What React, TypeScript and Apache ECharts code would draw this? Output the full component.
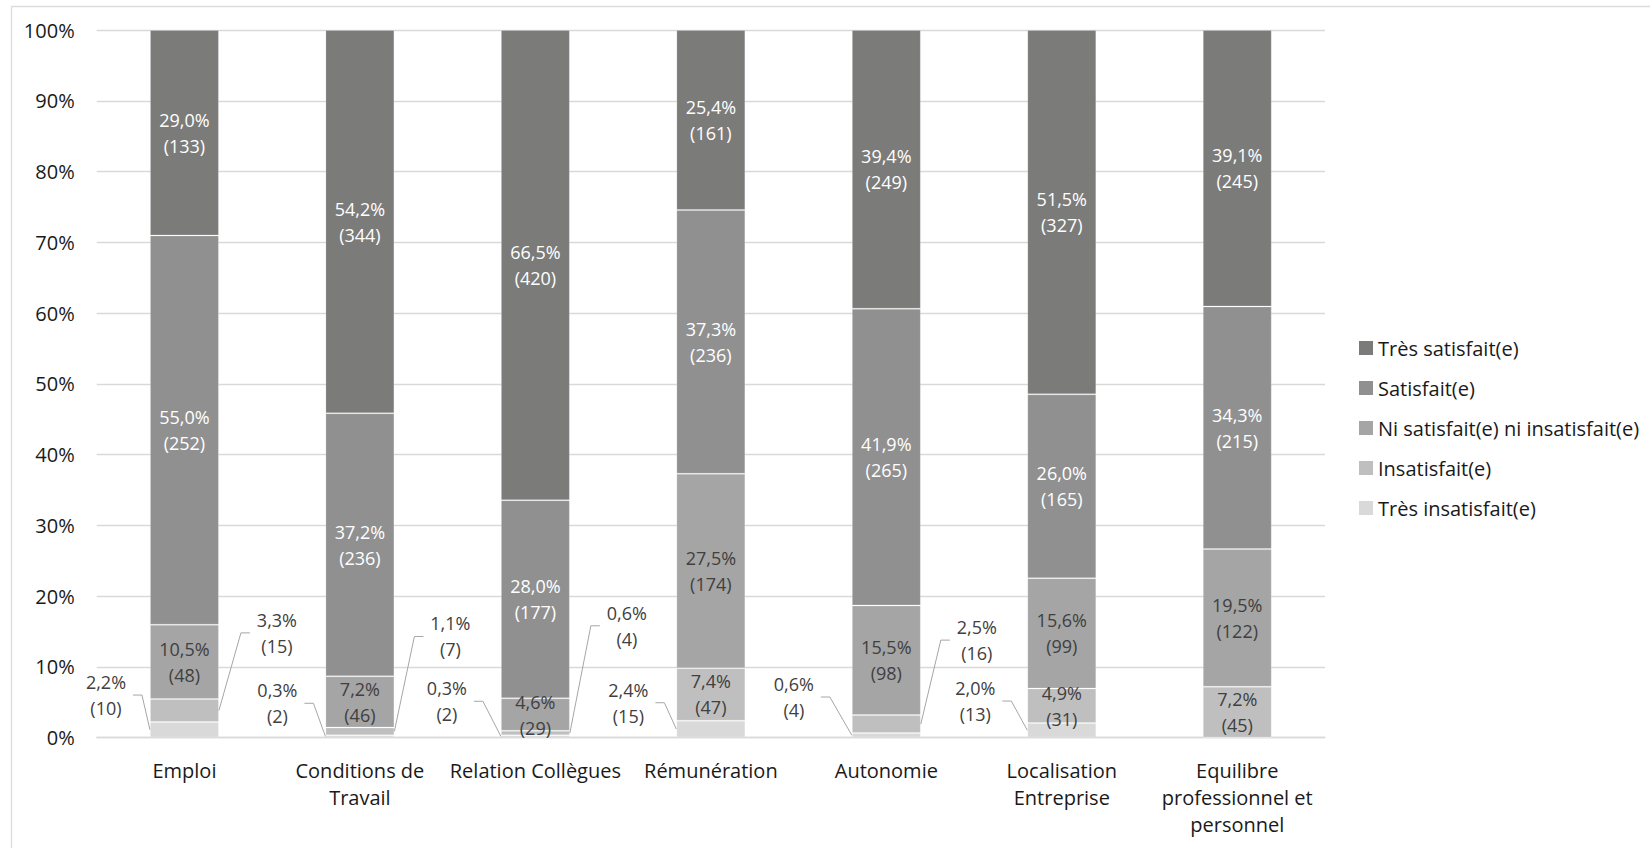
import React, { useEffect, useRef } from "react";
import * as echarts from "echarts";

// ---------- data ----------
const categories = [
  "Emploi",
  "Conditions de\nTravail",
  "Relation Collègues",
  "Rémunération",
  "Autonomie",
  "Localisation\nEntreprise",
  "Equilibre\nprofessionnel et\npersonnel",
];

// bottom -> top stacking order
const seriesNames = [
  "Très insatisfait(e)",
  "Insatisfait(e)",
  "Ni satisfait(e) ni insatisfait(e)",
  "Satisfait(e)",
  "Très satisfait(e)",
];

const countsTresInsatisfait = [10, 2, 2, 15, 4, 13, 0];
const countsInsatisfait = [15, 7, 4, 47, 16, 31, 45];
const countsNi = [48, 46, 29, 174, 98, 99, 122];
const countsSatisfait = [252, 236, 177, 236, 265, 165, 215];
const countsTresSatisfait = [133, 344, 420, 161, 249, 327, 245];

const pctTresInsatisfait = [2.2, 0.3, 0.3, 2.4, 0.6, 2.0, 0];
const pctInsatisfait = [3.3, 1.1, 0.6, 7.4, 2.5, 4.9, 7.2];
const pctNi = [10.5, 7.2, 4.6, 27.5, 15.5, 15.6, 19.5];
const pctSatisfait = [55.0, 37.2, 28.0, 37.3, 41.9, 26.0, 34.3];
const pctTresSatisfait = [29.0, 54.2, 66.5, 25.4, 39.4, 51.5, 39.1];

const yTicks = [0, 10, 20, 30, 40, 50, 60, 70, 80, 90, 100];

// ---------- style / layout ----------
const colors = ["#d9d9d9", "#bfbfbf", "#a5a5a5", "#909090", "#7b7b7a"];
const labelColors = ["#404040", "#404040", "#404040", "#ffffff", "#ffffff"];
const FONT = '"Open Sans", "Noto Sans", sans-serif';
const BAR_RATIO = 0.393;

// callout labels (outside the bars), offsets in px relative to bar edge / segment top
const callouts = [
  { cat: 0, s: 0, side: "L", dx: -44, dy: -27 },
  { cat: 1, s: 0, side: "L", dx: -48, dy: -32 },
  { cat: 2, s: 0, side: "L", dx: -54, dy: -34 },
  { cat: 3, s: 0, side: "L", dx: -48, dy: -18 },
  { cat: 4, s: 0, side: "L", dx: -58, dy: -36 },
  { cat: 5, s: 0, side: "L", dx: -52, dy: -22 },
  { cat: 0, s: 1, side: "R", dx: 58, dy: -66 },
  { cat: 1, s: 1, side: "R", dx: 56, dy: -91 },
  { cat: 2, s: 1, side: "R", dx: 57, dy: -105 },
  { cat: 4, s: 1, side: "R", dx: 56, dy: -75 },
];

const counts = [
  countsTresInsatisfait,
  countsInsatisfait,
  countsNi,
  countsSatisfait,
  countsTresSatisfait,
];
const pcts = [
  pctTresInsatisfait,
  pctInsatisfait,
  pctNi,
  pctSatisfait,
  pctTresSatisfait,
];

const fmtPct = (v: number) => v.toFixed(1).replace(".", ",") + "%";

export default function App() {
  const ref = useRef<HTMLDivElement>(null);

  useEffect(() => {
    if (!ref.current) return;
    const chart = echarts.init(ref.current, null, { renderer: "svg" });

    const totals = categories.map((_, c) =>
      counts.reduce((acc, arr) => acc + arr[c], 0)
    );
    const heights = counts.map((arr) => arr.map((v, c) => (v / totals[c]) * 100));

    const isCallout = (s: number, c: number) =>
      callouts.some((k) => k.s === s && k.cat === c);

    const barSeries = seriesNames.map((name, s) => ({
      name,
      type: "bar",
      stack: "total",
      barWidth: (BAR_RATIO * 100).toFixed(1) + "%",
      itemStyle: {
        color: colors[s],
        borderColor: "rgba(255,255,255,0.18)",
        borderWidth: 1,
      },
      emphasis: { disabled: true },
      label: {
        show: true,
        position: "inside",
        color: labelColors[s],
        fontSize: 18,
        lineHeight: 26,
        fontFamily: FONT,
        formatter: (p: any) => `${fmtPct(pcts[s][p.dataIndex])}\n(${counts[s][p.dataIndex]})`,
      },
      data: heights[s].map((v, c) => {
        if (counts[s][c] === 0 || isCallout(s, c)) {
          return { value: v, label: { show: false } };
        }
        return { value: v };
      }),
    }));

    const calloutData = callouts.map((k) => {
      let base = 0;
      for (let i = 0; i < k.s; i++) base += heights[i][k.cat];
      return [k.cat, base, base + heights[k.s][k.cat]];
    });

    const calloutSeries = {
      type: "custom",
      name: "callouts",
      clip: false,
      z: 10,
      silent: true,
      data: calloutData,
      renderItem: (params: any, api: any) => {
        const k = callouts[params.dataIndex];
        const base = api.value(1);
        const top = api.value(2);
        const pTop = api.coord([k.cat, top]);
        const pBase = api.coord([k.cat, base]);
        const bandW = api.size([1, 0])[0];
        const half = (bandW * BAR_RATIO) / 2;
        const left = k.side === "L";
        const edgeX = left ? pTop[0] - half : pTop[0] + half;
        const segMid = (pTop[1] + pBase[1]) / 2;
        const cx = edgeX + k.dx;
        const cy = pTop[1] + k.dy;
        const sgn = left ? 1 : -1;
        const text = `${fmtPct(pcts[k.s][k.cat])}\n(${counts[k.s][k.cat]})`;
        return {
          type: "group",
          children: [
            {
              type: "polyline",
              shape: {
                points: [
                  [cx + sgn * 27, cy],
                  [cx + sgn * 36, cy],
                  [edgeX, segMid],
                ],
              },
              style: { stroke: "#a6a6a6", lineWidth: 1, fill: "none" },
            },
            {
              type: "text",
              x: cx,
              y: cy,
              style: {
                text,
                fill: "#404040",
                fontSize: 18,
                lineHeight: 26,
                fontFamily: FONT,
                align: "center",
                verticalAlign: "middle",
              },
            },
          ],
        };
      },
    };

    chart.setOption({
      animation: false,
      backgroundColor: "#ffffff",
      textStyle: { fontFamily: FONT },
      graphic: [
        {
          type: "rect",
          shape: { x: 11.5, y: 6.5, width: 1700, height: 900 },
          style: { fill: "none", stroke: "#dcdcdc", lineWidth: 1.3 },
          silent: true,
          z: -1,
        },
      ],
      grid: {
        left: 96.7,
        right: 325,
        top: 30,
        bottom: 110.5,
        containLabel: false,
        outerBoundsMode: "none",
      },
      legend: {
        orient: "vertical",
        left: 1354,
        top: 333,
        itemWidth: 14,
        itemHeight: 14,
        itemGap: 20,
        icon: "rect",
        selectedMode: false,
        itemStyle: { borderWidth: 0 },
        textStyle: {
          fontSize: 20,
          lineHeight: 20,
          color: "#1a1a1a",
          fontFamily: FONT,
        },
        data: seriesNames.slice().reverse(),
      },
      xAxis: {
        type: "category",
        data: categories,
        axisTick: { show: false },
        axisLine: { show: true, lineStyle: { color: "#d9d9d9", width: 1.3 } },
        axisLabel: {
          interval: 0,
          margin: 19,
          fontSize: 20,
          lineHeight: 27,
          color: "#1a1a1a",
          fontFamily: FONT,
        },
      },
      yAxis: {
        type: "value",
        min: yTicks[0],
        max: yTicks[yTicks.length - 1],
        interval: yTicks[1] - yTicks[0],
        axisLine: { show: false },
        axisTick: { show: false },
        splitLine: { lineStyle: { color: "#d9d9d9", width: 1.3 } },
        axisLabel: {
          margin: 22,
          fontSize: 20,
          color: "#1a1a1a",
          fontFamily: FONT,
          formatter: "{value}%",
        },
      },
      series: [...barSeries, calloutSeries],
    });

    return () => chart.dispose();
  }, []);

  return (
    <div
      ref={ref}
      style={{ position: "fixed", left: 0, top: 0, width: 1650, height: 848 }}
    />
  );
}
